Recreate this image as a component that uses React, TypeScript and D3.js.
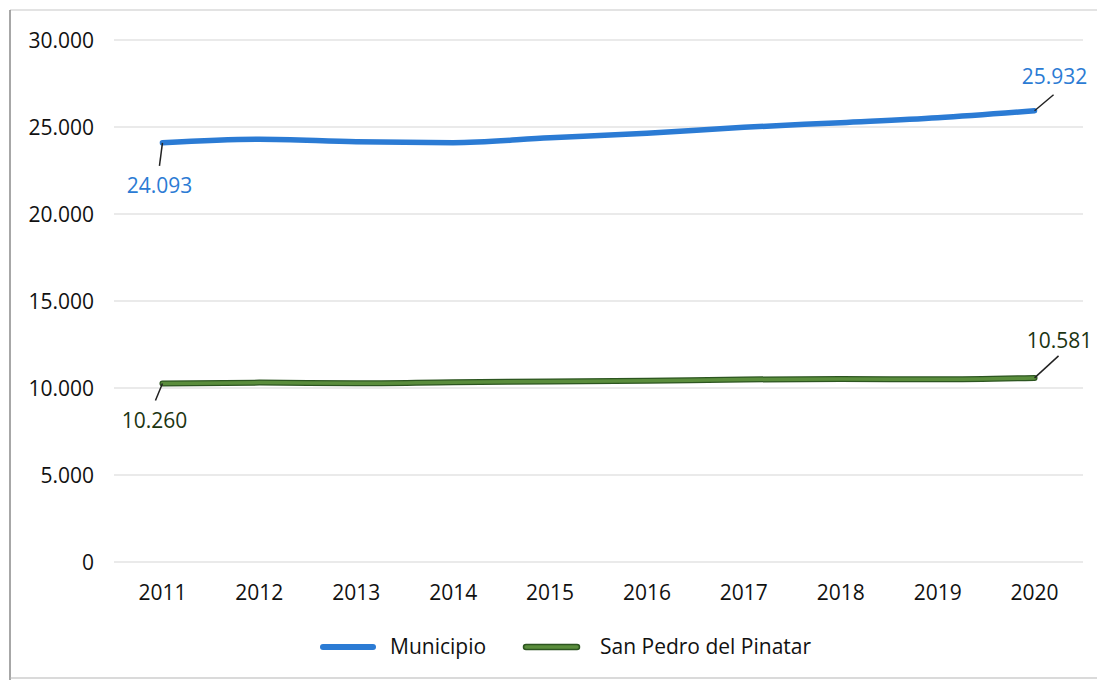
import * as d3 from "d3";

const years = ["2011", "2012", "2013", "2014", "2015", "2016", "2017", "2018", "2019", "2020"];
const municipio = [24093, 24300, 24150, 24100, 24380, 24640, 24980, 25250, 25530, 25932];
const sanPedro = [10260, 10310, 10270, 10330, 10370, 10420, 10490, 10520, 10500, 10581];
const yTicks = [0, 5000, 10000, 15000, 20000, 25000, 30000];

const W = 1099;
const H = 680;
const FONT = "'Open Sans', 'Noto Sans', sans-serif";
const BLUE = "#2b7bd4";
const GREEN = "#5a8d3c";
const GREEN_DARK = "#2c5520";
const INK = "#111";

const fmt = (v: number) => d3.format(",")(v).replace(/,/g, ".");

export default function App() {
  const x = d3.scalePoint<string>().domain(years).range([114, 1083]).padding(0.5);
  const y = d3.scaleLinear().domain([0, 30000]).range([562, 40]);
  const line = d3
    .line<number>()
    .x((_, i) => x(years[i]) as number)
    .y((d) => y(d))
    .curve(d3.curveMonotoneX);

  const first = years[0];
  const last = years[years.length - 1];
  const x0 = x(first) as number;
  const x9 = x(last) as number;

  return (
    <svg
      width={W}
      height={H}
      style={{ position: "absolute", left: 0, top: 0, background: "#fff" }}
      fontFamily={FONT}
    >
      {/* scanned page border */}
      <line x1={10} y1={10} x2={1097} y2={10} stroke="#c8c8c8" strokeWidth={1.2} />
      <line x1={10} y1={10} x2={10} y2={680} stroke="#8a8a8a" strokeWidth={1.5} />
      <line x1={10} y1={678} x2={1097} y2={678} stroke="#b5b5b5" strokeWidth={1} />

      {/* grid + y labels */}
      {yTicks.map((t) => (
        <g key={t}>
          <line x1={114} x2={1083} y1={y(t)} y2={y(t)} stroke="#d6d6d6" strokeWidth={1.2} />
          <text x={94} y={y(t)} dy="0.36em" textAnchor="end" fontSize={21} fill={INK}>
            {fmt(t)}
          </text>
        </g>
      ))}

      {/* x labels */}
      {years.map((yr) => (
        <text key={yr} x={x(yr)} y={600} textAnchor="middle" fontSize={21} fill={INK}>
          {yr}
        </text>
      ))}

      {/* series */}
      <path d={line(municipio) ?? ""} fill="none" stroke={BLUE} strokeWidth={5.5} strokeLinecap="round" />
      <path d={line(sanPedro) ?? ""} fill="none" stroke={GREEN_DARK} strokeWidth={6} strokeLinecap="round" />
      <path d={line(sanPedro) ?? ""} fill="none" stroke={GREEN} strokeWidth={3.5} strokeLinecap="round" />

      {/* data labels with leader lines */}
      <line x1={x0} y1={y(municipio[0])} x2={x0 - 3} y2={y(municipio[0]) + 23} stroke="#222" strokeWidth={1.5} />
      <text x={x0 - 3} y={193} textAnchor="middle" fontSize={21} fill={BLUE}>
        {fmt(municipio[0])}
      </text>
      <line x1={x9} y1={y(municipio[9])} x2={x9 + 19} y2={y(municipio[9]) - 16} stroke="#222" strokeWidth={1.5} />
      <text x={x9 + 20} y={84} textAnchor="middle" fontSize={21} fill={BLUE}>
        {fmt(municipio[9])}
      </text>

      <line x1={x0} y1={y(sanPedro[0])} x2={x0 - 7} y2={y(sanPedro[0]) + 17} stroke="#222" strokeWidth={1.5} />
      <text x={x0 - 8} y={428} textAnchor="middle" fontSize={21} fill="#1c3512">
        {fmt(sanPedro[0])}
      </text>
      <line x1={x9} y1={y(sanPedro[9])} x2={x9 + 24} y2={y(sanPedro[9]) - 22} stroke="#222" strokeWidth={1.5} />
      <text x={x9 + 25} y={348} textAnchor="middle" fontSize={21} fill="#1c3512">
        {fmt(sanPedro[9])}
      </text>

      {/* legend */}
      <line x1={323} x2={373} y1={647} y2={647} stroke={BLUE} strokeWidth={6} strokeLinecap="round" />
      <text x={390} y={654} fontSize={21} fill={INK}>Municipio</text>
      <line x1={526} x2={577} y1={647} y2={647} stroke={GREEN_DARK} strokeWidth={6.5} strokeLinecap="round" />
      <line x1={526} x2={577} y1={647} y2={647} stroke={GREEN} strokeWidth={3.5} strokeLinecap="round" />
      <text x={600} y={654} fontSize={21} fill={INK}>San Pedro del Pinatar</text>
    </svg>
  );
}
